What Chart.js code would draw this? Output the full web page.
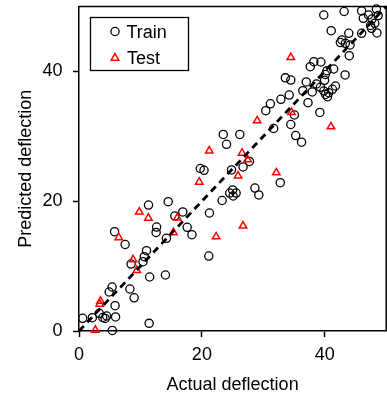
<!DOCTYPE html>
<html>
<head>
<meta charset="utf-8">
<script src="https://cdn.jsdelivr.net/npm/chart.js@4.4.1/dist/chart.umd.min.js"></script>
<style>
html,body{margin:0;padding:0;overflow:hidden;background:#fff;}
canvas{display:block;}
</style>
</head>
<body>
<canvas id="c" width="392" height="399"></canvas>
<script>
// ---- data ----
const seriesNames = ["Train", "Test"];
const trainX = [0.60,2.17,3.30,3.86,4.50,4.26,5.95,5.87,5.42,5.39,4.91,5.79,7.51,8.28,8.97,8.48,10.42,10.62,10.99,11.50,11.42,11.31,12.63,12.55,14.07,14.23,14.52,15.60,16.89,17.61,18.38,21.23,21.12,23.29,24.53,25.01,25.57,25.09,28.63,29.27,19.73,20.35,24.82,26.70,27.74,23.48,26.17,24.01,30.40,31.15,32.86,34.21,31.68,32.76,34.47,35.06,35.27,36.22,33.58,34.47,36.43,36.99,37.27,37.96,38.23,39.37,37.64,38.65,39.97,39.29,40.37,41.45,43.31,40.10,41.74,41.25,39.84,40.13,40.45,40.64,39.20,43.99,39.84,43.15,46.00,47.12,47.69,48.41,48.69,48.14,48.49,47.45,46.27,41.05,43.91,46.00,47.61,42.78,42.54,43.35,44.12];
const trainY = [1.96,2.05,2.73,2.08,2.31,1.93,2.16,3.90,0.08,6.78,6.01,15.30,13.33,6.47,5.12,10.32,10.68,11.45,12.37,8.32,1.18,19.41,16.02,15.18,8.63,14.28,19.92,17.72,18.34,15.98,14.84,18.18,11.55,20.11,21.26,21.73,21.26,20.80,22.03,20.96,25.04,24.76,24.81,25.27,26.12,30.28,30.28,28.77,33.94,35.01,35.70,36.36,31.20,22.85,31.82,33.28,30.12,29.09,39.01,38.67,37.03,38.37,35.18,36.83,41.49,41.45,40.72,38.06,38.63,37.55,40.11,40.37,39.45,39.52,37.75,37.24,36.98,36.44,36.10,36.72,33.67,42.42,48.69,49.23,49.31,48.69,48.07,49.61,48.61,47.41,45.92,47.07,48.18,46.27,45.87,45.87,46.64,44.84,44.45,44.33,44.07];
const testX = [2.65,3.38,3.49,6.47,8.80,9.41,9.81,11.29,15.36,16.00,19.57,21.20,22.32,25.89,26.54,27.44,26.70,29.00,32.12,34.58,34.47,41.01];
const testY = [0.15,4.16,4.62,14.41,10.99,9.35,18.34,17.41,15.18,17.44,22.96,27.77,14.53,23.91,27.43,26.41,16.20,32.40,24.39,33.70,42.17,31.48];
const lineX = [0, 50];
const lineY = [0, 50];
const xTicks = [0, 20, 40];
const yTicks = [0, 20, 40];
const xTitle = "Actual deflection";
const yTitle = "Predicted deflection";

const pts = (xs, ys) => xs.map((x, i) => ({x: x, y: ys[i]}));
const FONT = "'Liberation Sans', Arial, sans-serif";

const framePlugin = {
  id: 'frame',
  afterDatasetsDraw(chart) {
    const {ctx, chartArea: a} = chart;
    ctx.save();
    ctx.strokeStyle = '#000';
    ctx.lineWidth = 1.5;
    ctx.beginPath();
    ctx.moveTo(a.left, a.top);
    ctx.lineTo(a.right, a.top);
    ctx.lineTo(a.right, a.bottom);
    ctx.stroke();
    ctx.restore();
  }
};

const legendPlugin = {
  id: 'boxLegend',
  afterDraw(chart) {
    const ctx = chart.ctx;
    const ds = chart.data.datasets;
    ctx.save();
    ctx.fillStyle = '#fff';
    ctx.fillRect(90.5, 17.5, 98, 53);
    ctx.strokeStyle = '#000';
    ctx.lineWidth = 1.3;
    ctx.strokeRect(90.5, 17.5, 98, 53);
    ctx.lineWidth = 1.3;
    ctx.strokeStyle = ds[1].borderColor;
    ctx.beginPath();
    ctx.arc(115, 31.5, 4.1, 0, Math.PI * 2);
    ctx.stroke();
    ctx.strokeStyle = ds[2].borderColor;
    ctx.lineWidth = 1.5;
    const r = 4.4, cx = 115, cy = 58;
    ctx.beginPath();
    for (let k = 0; k < 3; k++) {
      const ang = k * 2 * Math.PI / 3;
      const px = cx + Math.sin(ang) * r, py = cy - Math.cos(ang) * r;
      if (k === 0) ctx.moveTo(px, py); else ctx.lineTo(px, py);
    }
    ctx.closePath();
    ctx.stroke();
    ctx.fillStyle = '#000';
    ctx.font = "18px " + FONT;
    ctx.textBaseline = 'alphabetic';
    ctx.textAlign = 'left';
    ctx.fillText(ds[1].label, 126.5, 37.5);
    ctx.fillText(ds[2].label, 127, 63.5);
    ctx.restore();
  }
};

new Chart(document.getElementById('c'), {
  type: 'scatter',
  data: {
    datasets: [
      {
        type: 'line', label: 'y = x', data: pts(lineX, lineY),
        borderColor: '#000', borderWidth: 2.8, borderDash: [7, 5],
        pointRadius: 0, fill: false, order: 0, clip: false
      },
      {
        label: seriesNames[0], data: pts(trainX, trainY),
        pointStyle: 'circle', pointRadius: 4.1, borderWidth: 1.3,
        borderColor: '#000', backgroundColor: 'rgba(0,0,0,0)', order: 2, clip: false
      },
      {
        label: seriesNames[1], data: pts(testX, testY),
        pointStyle: 'triangle', pointRadius: 4.3, borderWidth: 1.5,
        borderColor: '#ff0000', backgroundColor: 'rgba(0,0,0,0)', order: 1, clip: false
      }
    ]
  },
  options: {
    responsive: false,
    animation: false,
    devicePixelRatio: 1,
    layout: {padding: {left: 0, top: 6.5, right: 2, bottom: 0}},
    plugins: {legend: {display: false}, tooltip: {enabled: false}},
    scales: {
      x: {
        type: 'linear', min: 0, max: 50,
        afterBuildTicks: s => { s.ticks = xTicks.map(v => ({value: v})); },
        afterFit: s => { s.height = 68; s.paddingLeft = 0; s.paddingRight = 0; },
        grid: {display: true, drawOnChartArea: false, drawTicks: true, tickLength: 6, tickColor: '#000', tickWidth: 1.5},
        border: {display: true, color: '#000', width: 1.5},
        ticks: {color: '#000', font: {family: FONT, size: 18}, padding: 7.6, maxRotation: 0},
        title: {display: true, text: xTitle, color: '#000', font: {family: FONT, size: 18}, padding: {top: 0, bottom: 3.5}}
      },
      y: {
        type: 'linear', min: 0, max: 50,
        afterBuildTicks: s => { s.ticks = yTicks.map(v => ({value: v})); },
        afterFit: s => { s.width = 79; s.paddingTop = 0; s.paddingBottom = 0; },
        grid: {display: true, drawOnChartArea: false, drawTicks: true, tickLength: 6, tickColor: '#000', tickWidth: 1.5},
        border: {display: true, color: '#000', width: 1.5},
        ticks: {color: '#000', font: {family: FONT, size: 18}, padding: 10.5},
        title: {display: true, text: yTitle, color: '#000', font: {family: FONT, size: 18}, padding: {top: 15.6, bottom: 0}}
      }
    }
  },
  plugins: [framePlugin, legendPlugin]
});
</script>
</body>
</html>
